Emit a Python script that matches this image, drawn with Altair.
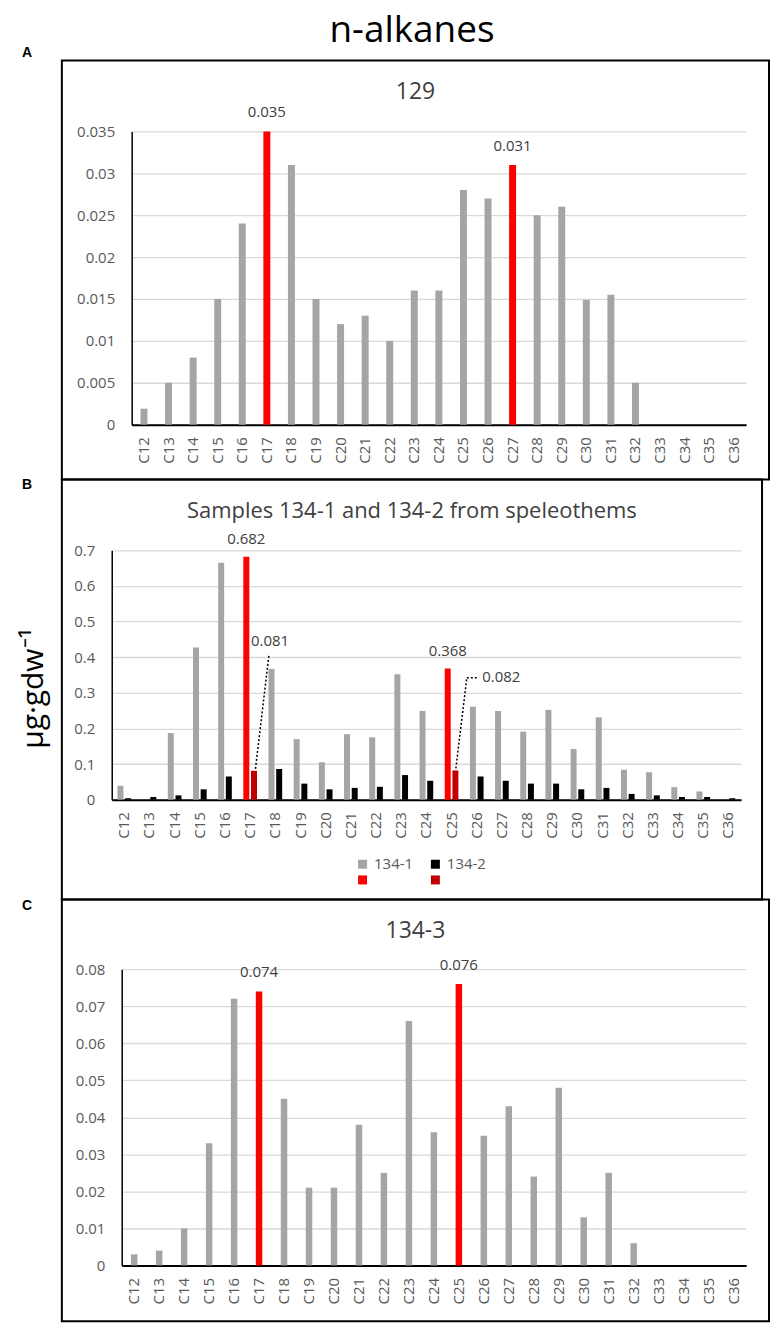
import altair as alt
import pandas as pd

categories = ["C12", "C13", "C14", "C15", "C16", "C17", "C18", "C19", "C20", "C21",
              "C22", "C23", "C24", "C25", "C26", "C27", "C28", "C29", "C30", "C31",
              "C32", "C33", "C34", "C35", "C36"]

values_129 = [0.0019, 0.005, 0.008, 0.015, 0.024, 0.035, 0.031, 0.015, 0.012, 0.013,
              0.010, 0.016, 0.016, 0.028, 0.027, 0.031, 0.025, 0.026, 0.0149, 0.0155,
              0.005, 0, 0, 0, 0]
values_134_1 = [0.039, 0, 0.187, 0.427, 0.665, 0.682, 0.367, 0.170, 0.105, 0.184,
                0.175, 0.352, 0.249, 0.368, 0.261, 0.249, 0.191, 0.252, 0.142, 0.231,
                0.084, 0.077, 0.035, 0.023, 0]
values_134_2 = [0.004, 0.0075, 0.012, 0.029, 0.065, 0.081, 0.086, 0.045, 0.029, 0.033,
                0.036, 0.069, 0.053, 0.082, 0.065, 0.053, 0.045, 0.045, 0.029, 0.033,
                0.016, 0.012, 0.0075, 0.0075, 0.004]
values_134_3 = [0.003, 0.004, 0.010, 0.033, 0.072, 0.074, 0.045, 0.021, 0.021, 0.038,
                0.025, 0.066, 0.036, 0.076, 0.035, 0.043, 0.024, 0.048, 0.013, 0.025,
                0.006, 0, 0, 0, 0]

highlight_129 = ["C17", "C27"]
highlight_134 = ["C17", "C25"]
series_names = ["134-1", "134-2"]

ticks_129 = [0, 0.005, 0.01, 0.015, 0.02, 0.025, 0.03, 0.035]
ticks_134_12 = [0, 0.1, 0.2, 0.3, 0.4, 0.5, 0.6, 0.7]
ticks_134_3 = [0, 0.01, 0.02, 0.03, 0.04, 0.05, 0.06, 0.07, 0.08]

main_title = "n-alkanes"
title_a = "129"
title_b = "Samples 134-1 and 134-2 from speleothems"
title_c = "134-3"
y_title = "µg·gdw⁻¹"

FONT = "Open Sans"
GRAY = "#A5A5A5"
RED = "#FF0000"
DARKRED = "#C00000"
TXT = "#404040"


def text_layer(txt, x, y, **kw):
    return alt.Chart(pd.DataFrame({"t": [txt]})).mark_text(**kw).encode(
        x=alt.value(x), y=alt.value(y), text="t:N")


def axes(H, xr, yr, ticks, fmt, ytitle=None):
    x = alt.X("cat:N", sort=categories,
              scale=alt.Scale(range=xr, paddingInner=0, paddingOuter=0),
              axis=alt.Axis(title=None, labelAngle=270, offset=-(H - yr[0]),
                            labelPadding=12, ticks=False, tickSize=0, grid=False,
                            labelOverlap=False, domainWidth=2))
    yaxis = dict(values=ticks, format=fmt, offset=-xr[0], labelPadding=17,
                 ticks=False, tickSize=0, grid=True, labelOverlap=False)
    if ytitle:
        yaxis.update(title=ytitle, titleFont=FONT, titleFontSize=30,
                     titleFontWeight="normal", titleColor="black", titleAngle=270,
                     titleX=-78, titleY=209, titleAlign="center", titleBaseline="middle")
    else:
        yaxis.update(title=None)
    y = alt.Y("val:Q", scale=alt.Scale(domain=[ticks[0], ticks[-1]], range=yr, nice=False),
              axis=alt.Axis(**yaxis))
    return x, y


def single_panel(vals, hl, ticks, fmt, title, letter, letter_y, W, H, xr, yr, size, extra=None):
    df = pd.DataFrame({"cat": categories, "val": vals,
                       "key": ["hi" if c in hl else "base" for c in categories]})
    x, y = axes(H, xr, yr, ticks, fmt)
    bars = alt.Chart(df).mark_bar(size=size).encode(
        x=x, y=y,
        color=alt.Color("key:N", scale=alt.Scale(domain=["base", "hi"], range=[GRAY, RED]),
                        legend=None))
    labels = alt.Chart(df).transform_filter(alt.datum.key == "hi").mark_text(
        dy=-19, fontSize=15, font=FONT, color=TXT, baseline="middle").encode(
        x=alt.X("cat:N", sort=categories), y="val:Q",
        text=alt.Text("val:Q", format=".3f"))
    layers = [bars, labels,
              text_layer(title, W / 2, 32, fontSize=23, font=FONT, color=TXT, baseline="middle"),
              text_layer(letter, -35, letter_y, fontSize=14, font="Liberation Sans",
                         fontWeight="bold", color="black", baseline="middle")]
    if extra:
        layers += extra
    return alt.layer(*layers).properties(width=W, height=H)


# Panel A
WA, HA = 709, 420
panel_a = single_panel(values_129, highlight_129, ticks_129, ".3~f", title_a, "A", -8,
                       WA, HA, [70, 686], [365, 71], 7,
                       extra=[text_layer(main_title, 351, -19, fontSize=37, font=FONT,
                                         color="black", baseline="alphabetic")])

# Panel B
WB, HB = 702, 421
xrB, yrB = [50, 681], [321, 71]
rows = []
for s, vals in zip(series_names, [values_134_1, values_134_2]):
    for c, v in zip(categories, vals):
        key = s if c not in highlight_134 else ("h1" if s == "134-1" else "h2")
        rows.append({"cat": c, "val": v, "series": s, "key": key})
dfB = pd.DataFrame(rows)
xB, yB = axes(HB, xrB, yrB, ticks_134_12, ".1~f", ytitle=y_title)
xoff = alt.XOffset("series:N", scale=alt.Scale(domain=series_names, range=[4.9, 20.3],
                                               paddingInner=0, paddingOuter=0))
barsB = alt.Chart(dfB).mark_bar(size=6).encode(
    x=xB, y=yB, xOffset=xoff,
    color=alt.Color("key:N",
                    scale=alt.Scale(domain=["134-1", "134-2", "h1", "h2"],
                                    range=[GRAY, "#000000", RED, DARKRED]),
                    legend=alt.Legend(orient="none", legendX=294, legendY=378, columns=2,
                                      direction="horizontal",
                                      title=None, symbolType="square", symbolSize=81,
                                      symbolStrokeWidth=0,
                                      labelExpr="datum.label == 'h1' || datum.label == 'h2' ? '' : datum.label",
                                      labelFont=FONT, labelFontSize=15, labelColor="#595959",
                                      columnPadding=14, rowPadding=0, padding=0,
                                      labelOffset=4)))
labB1 = alt.Chart(dfB).transform_filter(alt.datum.key == "h1").mark_text(
    dy=-18, fontSize=15, font=FONT, color=TXT, baseline="middle").encode(
    x=alt.X("cat:N", sort=categories), y="val:Q", xOffset="series:N",
    text=alt.Text("val:Q", format=".3f"))


def note(cat, dx, dy):
    return alt.Chart(dfB).transform_filter(
        (alt.datum.key == "h2") & (alt.datum.cat == cat)).mark_text(
        dx=dx, dy=dy, fontSize=15, font=FONT, color=TXT, baseline="middle").encode(
        x=alt.X("cat:N", sort=categories), y="val:Q", xOffset="series:N",
        text=alt.Text("val:Q", format=".3f"))


def leader(cat, x0, y0, x1, y1):
    return alt.Chart(dfB).transform_filter(
        (alt.datum.key == "h2") & (alt.datum.cat == cat)).mark_rule(
        color="black", strokeWidth=1.5, strokeDash=[2, 2],
        xOffset=x0, yOffset=y0, x2Offset=x1, y2Offset=y1).encode(
        x=alt.X("cat:N", sort=categories), x2="cat:N", y="val:Q", y2="val:Q")


panel_b = alt.layer(
    barsB, labB1,
    note("C17", 16, -130), note("C25", 46, -94),
    leader("C17", 5.3, -2, 18.8, -116),
    leader("C25", 4.3, -2, 15.3, -93),
    leader("C25", 15.3, -93, 25.3, -93),
    text_layer(title_b, WB / 2, 32, fontSize=22, font=FONT, color=TXT, baseline="middle"),
    text_layer("B", -35, 6, fontSize=14, font="Liberation Sans", fontWeight="bold",
               color="black", baseline="middle"),
).properties(width=WB, height=HB)

# Panel C
WC, HC = 709, 423
panel_c = single_panel(values_134_3, highlight_134, ticks_134_3, ".2~f", title_c, "C", 7,
                       WC, HC, [60, 686], [367, 70], 6.5)

chart = alt.vconcat(panel_a, panel_b, panel_c, spacing=0, bounds="flush").resolve_scale(
    color="independent", x="independent", y="independent"
).configure_view(stroke="black", strokeWidth=2).configure_axis(
    labelFont=FONT, labelFontSize=15, labelColor="#595959",
    domainColor="black", domainWidth=1.5, gridColor="#D9D9D9", gridWidth=1.3
).properties(padding={"left": 10, "top": 1, "right": 0, "bottom": 0})

chart.save("out.html", embed_options={"renderer": "svg", "actions": False})
